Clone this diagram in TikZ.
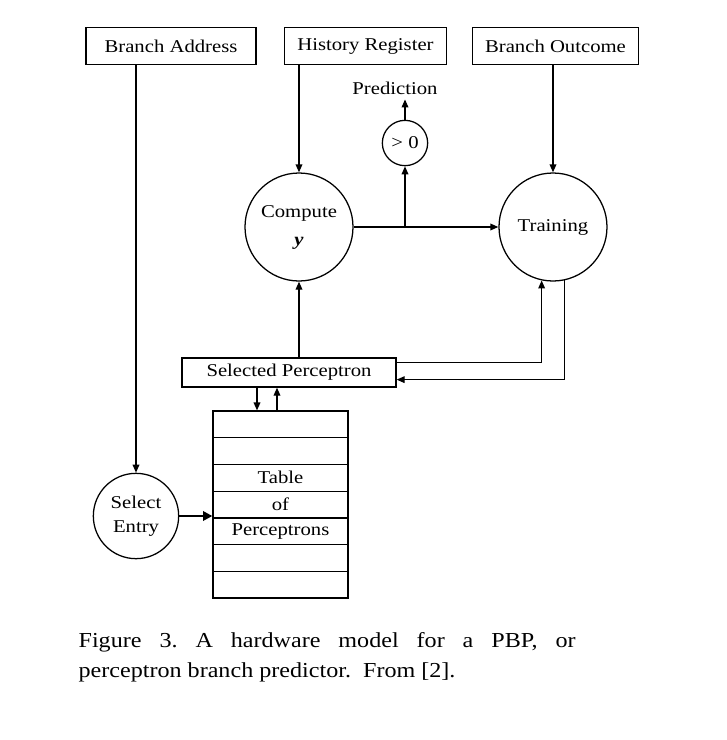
\documentclass[tikz,border=0pt]{standalone}
\usepackage{fontspec}
\setmainfont{Liberation Serif}
\newfontfamily\diagfont[FakeStretch=1.15]{Liberation Serif}
\newfontfamily\capfont[FakeStretch=1.13]{Liberation Serif}
\usetikzlibrary{arrows.meta}
\begin{document}
\begin{tikzpicture}[x=0.75pt,y=-0.75pt,
  font=\diagfont\fontsize{13.5}{15}\selectfont,
  line width=0.95pt,
  >={Triangle[length=6pt,width=5pt]},
  inbox/.style={draw, minimum height=28pt, inner sep=0},
  proc/.style={draw, circle, inner sep=0, align=center},
  row/.style={draw, minimum width=101.25pt, minimum height=20pt, inner sep=0}]
\useasboundingbox (0,0) rectangle (726,740);
% top inputs
\node[inbox, minimum width=127.5pt] (ba) at (171,46) {Branch Address};
\node[inbox, minimum width=121pt] (hr) at (365.5,46) {History Register};
\node[inbox, minimum width=124pt] (bo) at (555.5,46) {Branch Outcome};
% processing circles
\node[proc, minimum size=81pt] (cy) at (299,227) {Compute\\[6pt]\textbf{\textit{y}}};
\node[proc, minimum size=34pt] (gt) at (405,143) {> 0};
\node (pred) at (395,88) {Prediction};
\node[proc, minimum size=81pt] (tr) at (553,227) {Training};
\node[proc, minimum size=64pt] (se) at (136,516) {Select\\[3pt]Entry};
% selected perceptron
\node[draw, minimum width=160.5pt, minimum height=21.75pt, inner sep=0] (sp) at (289,372.5) {Selected Perceptron};
% table
\node[row] (t1) at (280.5,424.4) {};
\node[row] (t2) at (280.5,451.1) {};
\node[row] (t3) at (280.5,477.8) {Table};
\node[row] (t4) at (280.5,504.5) {of};
\node[row] (t5) at (280.5,531.2) {Perceptrons};
\node[row] (t6) at (280.5,557.9) {};
\node[row] (t7) at (280.5,584.6) {};
% connectors
\draw[->] (se.north |- ba.south) -- (se.north);
\draw[->] (cy.north |- hr.south) -- (cy.north);
\draw[->] (tr.north |- bo.south) -- (tr.north);
\draw[->] (cy.east) -- (tr.west);
\coordinate (j) at (gt.south |- cy.east);
\draw[->] (j) -- (gt.south);
\draw[->] (gt.north) -- (gt.north |- pred.south);
\draw[->] (cy.south |- sp.north) -- (cy.south);
\coordinate (spo) at ([yshift=-3.75pt]sp.north east);
\coordinate (spi) at ([yshift=6pt]sp.south east);
\draw[->] (spo) -| (tr.258);
\draw[->] (tr.282) |- (spi);
\coordinate (d1) at ([xshift=-24pt]sp.south);
\coordinate (d2) at ([xshift=-9pt]sp.south);
\draw[->] (d1) -- (d1 |- t1.north);
\draw[->] (d2 |- t1.north) -- (d2);
\draw[->, line width=1.7pt, >={Triangle[length=7pt,width=7pt]}] (se.east) -- (se.east -| t1.west);
% caption
\node[anchor=base west, inner sep=0] (cap) at (78,647)
  {\parbox[t]{372.75pt}{\capfont\fontsize{16}{22.5}\selectfont\frenchspacing\noindent
   Figure 3. A hardware model for a PBP, or\linebreak perceptron branch predictor.\ \ From [2].}};
\end{tikzpicture}
\end{document}
